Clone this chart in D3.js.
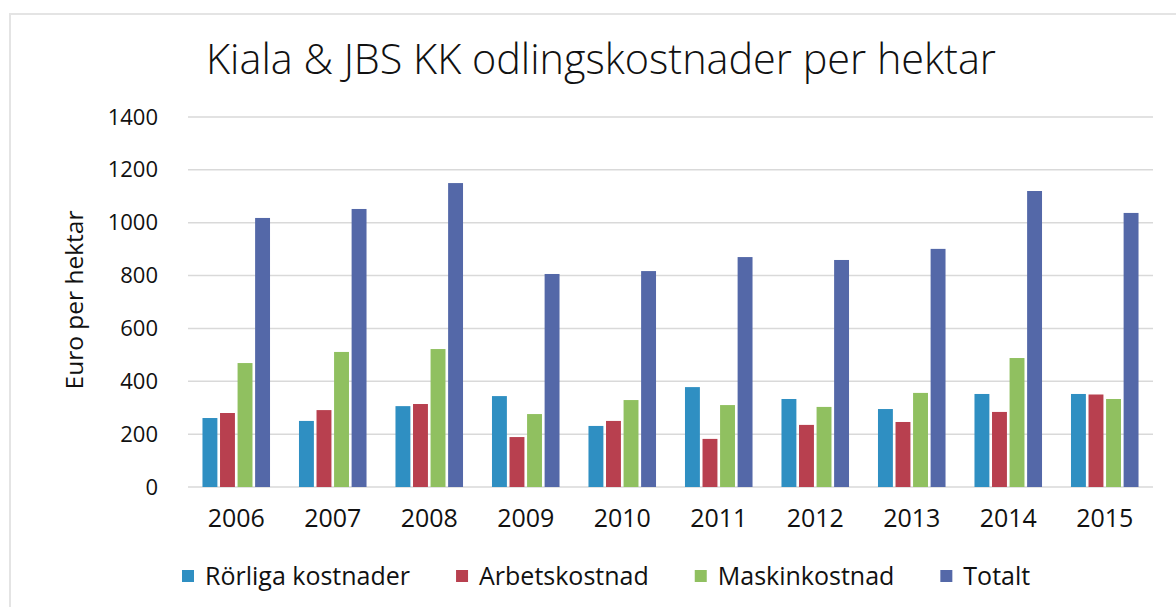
<!DOCTYPE html>
<html>
<head>
<meta charset="utf-8">
<script src="https://cdn.jsdelivr.net/npm/d3@7"></script>
<style>
  body { margin: 0; background: #fff; }
  text { font-family: "Open Sans", sans-serif; fill: #111; }
</style>
</head>
<body>
<div id="chart"></div>
<script>
// data
var years = ["2006", "2007", "2008", "2009", "2010", "2011", "2012", "2013", "2014", "2015"];
var seriesNames = ["Rörliga kostnader", "Arbetskostnad", "Maskinkostnad", "Totalt"];
var rorliga = [261, 250, 306, 344, 231, 378, 333, 295, 352, 352];
var arbets = [280, 291, 314, 189, 250, 182, 235, 246, 284, 350];
var maskin = [469, 511, 522, 276, 329, 310, 303, 356, 488, 333];
var totalt = [1018, 1052, 1150, 806, 817, 870, 859, 901, 1120, 1037];
var yTicks = [0, 200, 400, 600, 800, 1000, 1200, 1400];
var colors = ["#2f8fc2", "#b8404f", "#90c060", "#5468a8"];

var W = 1176, H = 607;
var margin = {top: 117, right: 23, bottom: 120, left: 188},
    width = W - margin.left - margin.right,
    height = H - margin.top - margin.bottom;

var svg = d3.select("#chart").append("svg")
    .attr("width", W)
    .attr("height", H);

// chart frame
svg.append("path")
    .attr("d", "M10," + H + " V14 H" + W)
    .attr("fill", "none")
    .attr("stroke", "#e4e4e4")
    .attr("stroke-width", 2);

var g = svg.append("g")
    .attr("transform", "translate(" + margin.left + "," + margin.top + ")");

var x0 = d3.scaleBand().domain(years).range([0, width]).paddingInner(0.3).paddingOuter(0.15);
var x1 = d3.scaleBand().domain(seriesNames).range([0, x0.bandwidth()]).paddingInner(0.15);
var y = d3.scaleLinear().domain([0, 1400]).range([height, 0]);

// gridlines
g.selectAll(".grid").data(yTicks).enter().append("line")
    .attr("x1", 0).attr("x2", width)
    .attr("y1", function (d) { return y(d); })
    .attr("y2", function (d) { return y(d); })
    .attr("stroke", "#d9d9d9")
    .attr("stroke-width", 1.5);

// y axis labels
var yAxis = g.append("g")
    .call(d3.axisLeft(y).tickValues(yTicks).tickFormat(d3.format("d")).tickSize(0).tickPadding(30));
yAxis.select(".domain").remove();
yAxis.selectAll("text").style("font-size", "22px").attr("font-family", "Open Sans").attr("fill", "#111");

// x axis labels
var xAxis = g.append("g")
    .attr("transform", "translate(0," + height + ")")
    .call(d3.axisBottom(x0).tickSize(0).tickPadding(22));
xAxis.select(".domain").remove();
xAxis.selectAll("text").style("font-size", "25px").attr("font-family", "Open Sans").attr("fill", "#111");

var values = [rorliga, arbets, maskin, totalt];
var rows = years.map(function (yr, i) {
    return {year: yr, vals: seriesNames.map(function (s, j) { return {name: s, v: values[j][i], c: colors[j]}; })};
});

var grp = g.selectAll(".yr").data(rows).enter().append("g")
    .attr("transform", function (d) { return "translate(" + x0(d.year) + ",0)"; });

grp.selectAll("rect").data(function (d) { return d.vals; }).enter().append("rect")
    .attr("x", function (d) { return x1(d.name); })
    .attr("y", function (d) { return y(d.v); })
    .attr("width", x1.bandwidth())
    .attr("height", function (d) { return height - y(d.v); })
    .attr("fill", function (d) { return d.c; });

// title
var title = svg.append("text")
    .attr("x", 601)
    .attr("y", 74)
    .attr("text-anchor", "middle")
    .style("font-size", "34px")
    .style("font-weight", 300)
    .attr("fill", "#333")
    .text("Kiala & JBS KK odlingskostnader per hektar");
var tw = title.node().getComputedTextLength();
title.style("font-size", (34 * 790 / tw) + "px");

// y axis title
svg.append("text")
    .attr("transform", "translate(83,300) rotate(-90)")
    .attr("text-anchor", "middle")
    .style("font-size", "24.5px")
    .text("Euro per hektar");

// legend
var lx = 182;
var legend = svg.append("g");
seriesNames.forEach(function (s, i) {
    legend.append("rect")
        .attr("x", lx).attr("y", 570)
        .attr("width", 12).attr("height", 12)
        .attr("fill", colors[i]);
    var t = legend.append("text")
        .attr("x", lx + 23).attr("y", 585)
        .style("font-size", "25px")
        .text(s);
    lx += 23 + t.node().getComputedTextLength() + 46;
});
</script>
</body>
</html>
